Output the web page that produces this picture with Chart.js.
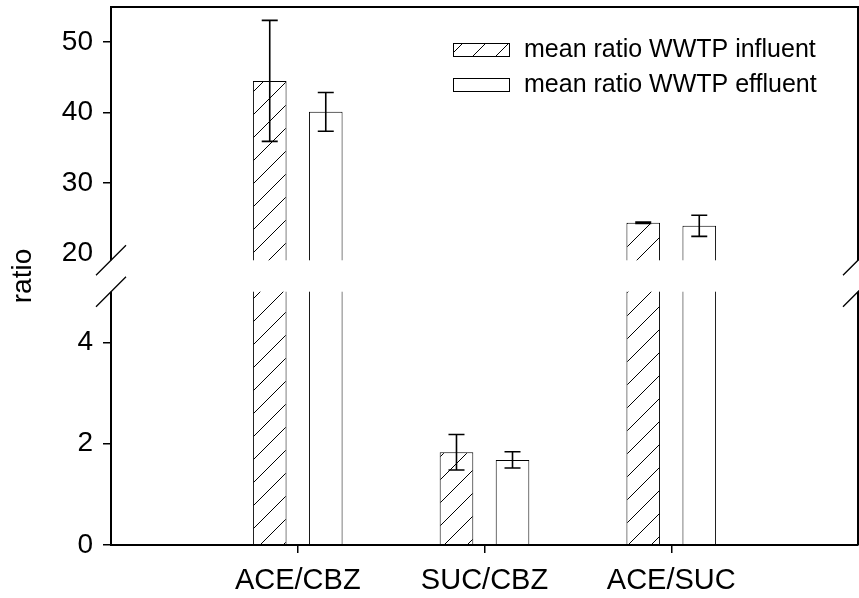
<!DOCTYPE html>
<html>
<head>
<meta charset="utf-8">
<script src="https://cdn.jsdelivr.net/npm/chart.js@4/dist/chart.umd.min.js"></script>
<style>
  html, body { margin: 0; padding: 0; background: #fff; }
  #wrap { width: 859px; height: 598px; }
</style>
</head>
<body>
<div id="wrap"><canvas id="c" width="859" height="598"></canvas></div>
<script>
// ---- data ----
const categories = ['ACE/CBZ', 'SUC/CBZ', 'ACE/SUC'];
const seriesNames = ['mean ratio WWTP influent', 'mean ratio WWTP effluent'];
const influentMean = [44.5, 1.83, 24.35];
const influentErr  = [8.6, 0.35, 0.1];
const effluentMean = [40.1, 1.68, 23.9];
const effluentErr  = [2.75, 0.16, 1.5];
const yTickValues = [0, 2, 4, 20, 30, 40, 50];
const lowRange  = [0, 5];
const highRange = [19, 55];

// ---- layout constants ----
const FONT = '"Liberation Sans", Arial, Helvetica, sans-serif';
const F_LOW = 0.4708, F_GAP = 0.0584, F_HIGH = 1 - F_LOW - F_GAP;

class BrokenScale extends Chart.LinearScale {
  determineDataLimits() { this.min = lowRange[0]; this.max = highRange[1]; }
  buildTicks() { return yTickValues.map(v => ({ value: v })); }
  _toDec(v) {
    if (v <= lowRange[1]) return (v - lowRange[0]) / (lowRange[1] - lowRange[0]) * F_LOW;
    if (v >= highRange[0]) return F_LOW + F_GAP + (v - highRange[0]) / (highRange[1] - highRange[0]) * F_HIGH;
    return F_LOW + (v - lowRange[1]) / (highRange[0] - lowRange[1]) * F_GAP;
  }
  _fromDec(d) {
    if (d <= F_LOW) return lowRange[0] + d / F_LOW * (lowRange[1] - lowRange[0]);
    if (d >= F_LOW + F_GAP) return highRange[0] + (d - F_LOW - F_GAP) / F_HIGH * (highRange[1] - highRange[0]);
    return lowRange[1] + (d - F_LOW) / F_GAP * (highRange[0] - lowRange[1]);
  }
  getPixelForValue(v) {
    if (v === null || v === undefined || isNaN(v)) return NaN;
    return this.getPixelForDecimal(this._toDec(v));
  }
  getValueForPixel(p) { return this._fromDec(this.getDecimalForPixel(p)); }
}
BrokenScale.id = 'broken';
BrokenScale.defaults = Chart.LinearScale.defaults;
Chart.register(BrokenScale);

const ctx = document.getElementById('c').getContext('2d');

function makeHatch() {
  const s = 23;
  const cv = document.createElement('canvas');
  cv.width = s; cv.height = s;
  const g = cv.getContext('2d');
  g.fillStyle = '#fff'; g.fillRect(0, 0, s, s);
  g.strokeStyle = '#000'; g.lineWidth = 1;
  g.beginPath();
  for (let k = -1; k <= 1; k++) { g.moveTo(k * s, s); g.lineTo(k * s + s, 0); }
  g.stroke();
  return ctx.createPattern(cv, 'repeat');
}
const hatch = makeHatch();

const overlayPlugin = {
  id: 'overlay',
  afterDatasetsDraw(chart) {
    const { ctx: c, chartArea: a } = chart;
    const y = chart.scales.y;
    // error bars
    c.save();
    c.strokeStyle = '#000';
    c.lineWidth = 1.6;
    chart.data.datasets.forEach((ds, di) => {
      const meta = chart.getDatasetMeta(di);
      meta.data.forEach((bar, i) => {
        const v = ds.data[i].y, e = ds.errors[i];
        const t = y.getPixelForValue(v + e), b = y.getPixelForValue(v - e);
        const x = bar.x;
        c.beginPath();
        c.moveTo(x, t); c.lineTo(x, b);
        c.moveTo(x - 8, t); c.lineTo(x + 8, t);
        c.moveTo(x - 8, b); c.lineTo(x + 8, b);
        c.stroke();
      });
    });
    // axis break band
    const yHi = y.getPixelForValue(highRange[0]);
    const yLo = y.getPixelForValue(lowRange[1]);
    c.fillStyle = '#fff';
    c.fillRect(a.left - 3, yHi, a.right - a.left + 6, yLo - yHi);
    // frame: top + right
    c.strokeStyle = '#000';
    c.lineWidth = 2;
    c.beginPath();
    c.moveTo(a.left - 1, a.top); c.lineTo(a.right + 1, a.top);
    c.moveTo(a.right, a.top); c.lineTo(a.right, yHi);
    c.moveTo(a.right, yLo); c.lineTo(a.right, a.bottom);
    c.stroke();
    // break slashes
    c.lineWidth = 1.3;
    c.beginPath();
    [a.left, a.right].forEach(x => [yHi, yLo].forEach(yy => {
      c.moveTo(x - 15, yy + 15); c.lineTo(x + 15, yy - 15);
    }));
    c.stroke();
    c.restore();
  },
  afterDraw(chart) {
    const c = chart.ctx;
    c.save();
    const rows = [50, 85];
    chart.data.datasets.forEach((ds, i) => {
      const cy = rows[i];
      c.fillStyle = ds.backgroundColor;
      c.fillRect(453, cy - 6.5, 57, 13);
      c.strokeStyle = '#000'; c.lineWidth = 1;
      c.strokeRect(453.5, cy - 6.5, 56, 13);
      c.fillStyle = '#000';
      c.font = '25px ' + FONT;
      c.textBaseline = 'middle';
      c.textAlign = 'left';
      c.fillText(ds.label, 524, cy);
    });
    c.restore();
  }
};

new Chart(ctx, {
  type: 'bar',
  data: {
    datasets: [
      {
        label: seriesNames[0],
        data: categories.map((cat, i) => ({ x: i + 1, y: influentMean[i] })),
        errors: influentErr,
        backgroundColor: hatch,
        borderColor: '#000',
        borderWidth: 1
      },
      {
        label: seriesNames[1],
        data: categories.map((cat, i) => ({ x: i + 1, y: effluentMean[i] })),
        errors: effluentErr,
        backgroundColor: '#fff',
        borderColor: '#000',
        borderWidth: 1
      }
    ]
  },
  options: {
    responsive: false,
    animation: false,
    categoryPercentage: 0.6,
    barPercentage: 0.6,
    layout: { padding: { top: 7, right: 1, left: 0, bottom: 0 } },
    plugins: { legend: { display: false }, tooltip: { enabled: false } },
    scales: {
      x: {
        type: 'linear',
        min: 0, max: 4,
        offset: false,
        afterBuildTicks: axis => { axis.ticks = categories.map((cat, i) => ({ value: i + 1 })); },
        ticks: {
          callback: v => categories[v - 1] || '',
          font: { family: FONT, size: 29 },
          color: '#000',
          padding: 11,
          maxRotation: 0,
          autoSkip: false
        },
        grid: { offset: false, drawOnChartArea: false, drawTicks: true, tickLength: 8, color: '#000', lineWidth: 1.5 },
        border: { color: '#000', width: 2, z: 1 },
        afterFit: axis => { axis.height = 53; axis.paddingLeft = 0; axis.paddingRight = 0; }
      },
      y: {
        type: 'broken',
        position: 'left',
        ticks: {
          callback: v => String(v),
          font: { family: FONT, size: 28 },
          color: '#000',
          padding: 10
        },
        grid: {
          drawOnChartArea: false, drawTicks: true, tickLength: 8, lineWidth: 1.5,
          color: c => (c.tick && c.tick.value === 20) ? 'rgba(0,0,0,0)' : '#000'
        },
        border: { color: '#000', width: 2 },
        title: { display: true, text: 'ratio', font: { family: FONT, size: 28 }, color: '#000', padding: { top: 6, bottom: 0 } },
        afterFit: axis => { axis.width = 111; axis.paddingTop = 0; axis.paddingBottom = 0; }
      }
    }
  },
  plugins: [overlayPlugin]
});
</script>
</body>
</html>
